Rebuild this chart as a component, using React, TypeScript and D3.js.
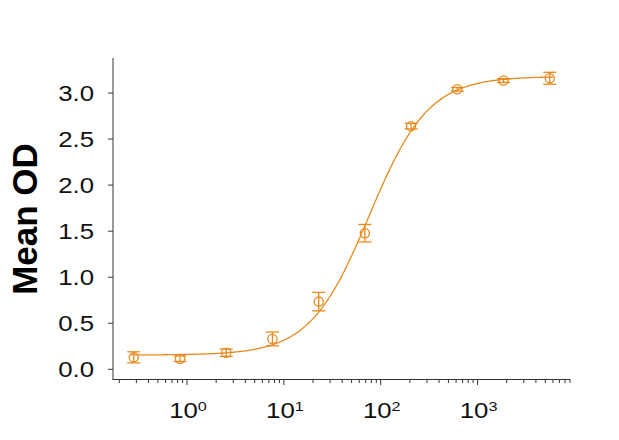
import React from "react";
import * as d3 from "d3";

const concentrations = [0.282, 0.847, 2.54, 7.62, 22.9, 68.6, 205.8, 617.3, 1851.9, 5555.6];
const meanOD = [0.13, 0.115, 0.18, 0.33, 0.735, 1.478, 2.64, 3.04, 3.135, 3.16];
const errOD = [0.06, 0.03, 0.04, 0.075, 0.1, 0.095, 0.03, 0.02, 0.02, 0.065];
const yTicks = [0, 0.5, 1.0, 1.5, 2.0, 2.5, 3.0];
const xMajorExponents = [0, 1, 2, 3];
// 4-parameter logistic fit
const fitBottom = 0.155;
const fitTop = 3.18;
const fitEC50 = 76;
const fitHill = 1.42;

const COLOR = "#E8891C";
const AXIS = "#333";
const FONT = "Arial, 'Liberation Sans', sans-serif";

export default function App() {
  const W = 619, H = 440;
  const x = d3.scaleLog().domain([0.17, 9000]).range([112.5, 570]);
  const y = d3.scaleLinear().domain([-0.116, 3.38]).range([380, 58]);

  const fit = (c: number) => fitBottom + (fitTop - fitBottom) / (1 + Math.pow(fitEC50 / c, fitHill));
  const curvePts = d3.range(0, 301).map((i) => {
    const lc = Math.log10(0.26) + (i / 300) * (Math.log10(6000) - Math.log10(0.26));
    const c = Math.pow(10, lc);
    return [x(c), y(fit(c))] as [number, number];
  });
  const line = d3.line().curve(d3.curveLinear)(curvePts) || "";

  const minorTicks: number[] = [];
  for (let e = -1; e <= 3; e++) {
    for (let m = 1; m <= 9; m++) {
      const v = m * Math.pow(10, e);
      if (v >= 0.17 && v <= 9000 && m !== 1) minorTicks.push(v);
    }
  }

  return (
    <svg width={W} height={H} style={{ position: "absolute", left: 0, top: 0, background: "#fff" }}>
      {/* axes */}
      <line x1={113} x2={113} y1={58} y2={380} stroke={AXIS} strokeWidth={1} />
      <line x1={112.5} x2={570.5} y1={379.5} y2={379.5} stroke={AXIS} strokeWidth={1} />
      {yTicks.map((t) => (
        <g key={"yt" + t}>
          <line x1={108} x2={113} y1={y(t)} y2={y(t)} stroke={AXIS} strokeWidth={1} />
          <text
            transform={`translate(94,${y(t)}) scale(1.2,1)`}
            dy="0.36em"
            textAnchor="end"
            fontSize={21.5}
            fontFamily={FONT}
            fill="#111"
          >
            {t.toFixed(1)}
          </text>
        </g>
      ))}
      {minorTicks.map((v) => (
        <line key={"mt" + v} x1={x(v)} x2={x(v)} y1={380} y2={383} stroke={AXIS} strokeWidth={1} />
      ))}
      {xMajorExponents.map((e) => (
        <g key={"xt" + e}>
          <line x1={x(Math.pow(10, e))} x2={x(Math.pow(10, e))} y1={380} y2={385} stroke={AXIS} strokeWidth={1} />
          <text
            transform={`translate(${x(Math.pow(10, e)) + 1},417.5) scale(1.2,1)`}
            textAnchor="middle"
            fontSize={21.5}
            fontFamily={FONT}
            fill="#111"
          >
            <tspan>10</tspan>
            <tspan dy={-7} fontSize={13.5}>{e}</tspan>
          </text>
        </g>
      ))}
      <text
        transform={`translate(36.5,219) rotate(-90)`}
        textAnchor="middle"
        fontSize={35}
        fontWeight="bold"
        fontFamily={FONT}
        fill="#000"
      >
        Mean OD
      </text>
      {/* fit curve */}
      <path d={line} fill="none" stroke={COLOR} strokeWidth={1.3} />
      {/* points with error bars */}
      {concentrations.map((c, i) => {
        const cx = x(c);
        const cy = y(meanOD[i]);
        const yt = y(meanOD[i] + errOD[i]);
        const yb = y(meanOD[i] - errOD[i]);
        return (
          <g key={"p" + i} stroke={COLOR} strokeWidth={1.3} fill="none">
            <line x1={cx} x2={cx} y1={yt} y2={yb} />
            <line x1={cx - 6.5} x2={cx + 6.5} y1={yt} y2={yt} />
            <line x1={cx - 6.5} x2={cx + 6.5} y1={yb} y2={yb} />
            <circle cx={cx} cy={cy} r={4.6} />
          </g>
        );
      })}
    </svg>
  );
}
